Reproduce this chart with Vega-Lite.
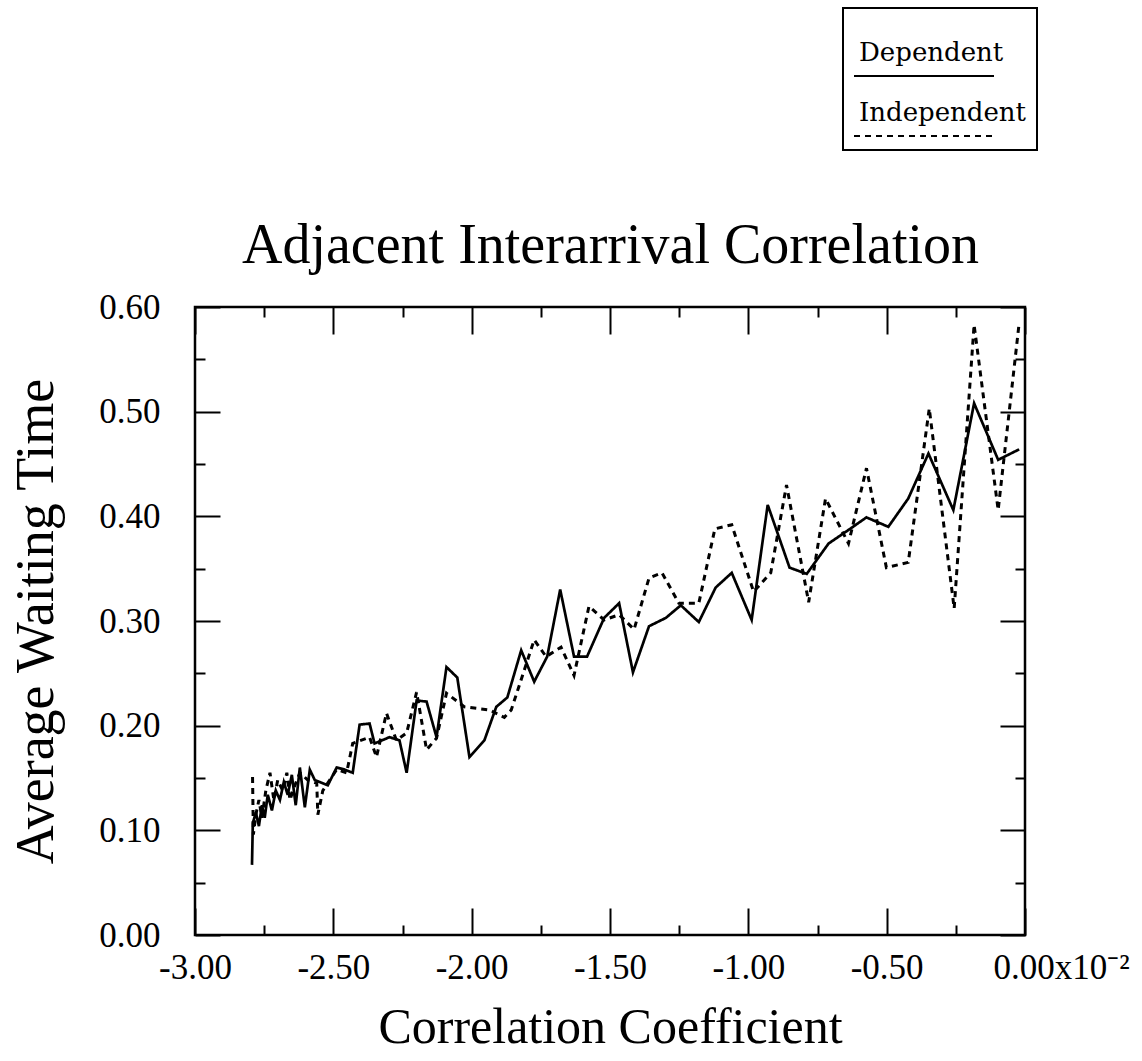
{
  "$schema": "https://vega.github.io/schema/vega-lite/v6.json",
  "width": 830,
  "height": 628,
  "autosize": {"type": "none"},
  "padding": {"left": 195, "top": 307, "right": 117, "bottom": 126},
  "background": "white",
  "config": {
    "view": {"stroke": "black", "strokeWidth": 2.5},
    "legend": {"strokeWidth": 2}
  },
  "data": {"values": [
    {"s": "Dependent", "r": -2.794, "w": 0.067},
    {"s": "Dependent", "r": -2.791, "w": 0.107},
    {"s": "Dependent", "r": -2.780, "w": 0.117},
    {"s": "Dependent", "r": -2.769, "w": 0.104},
    {"s": "Dependent", "r": -2.758, "w": 0.124},
    {"s": "Dependent", "r": -2.748, "w": 0.112},
    {"s": "Dependent", "r": -2.737, "w": 0.134},
    {"s": "Dependent", "r": -2.722, "w": 0.119},
    {"s": "Dependent", "r": -2.708, "w": 0.138},
    {"s": "Dependent", "r": -2.693, "w": 0.129},
    {"s": "Dependent", "r": -2.679, "w": 0.146},
    {"s": "Dependent", "r": -2.665, "w": 0.134},
    {"s": "Dependent", "r": -2.650, "w": 0.153},
    {"s": "Dependent", "r": -2.636, "w": 0.124},
    {"s": "Dependent", "r": -2.621, "w": 0.160},
    {"s": "Dependent", "r": -2.603, "w": 0.122},
    {"s": "Dependent", "r": -2.585, "w": 0.158},
    {"s": "Dependent", "r": -2.567, "w": 0.148},
    {"s": "Dependent", "r": -2.520, "w": 0.143},
    {"s": "Dependent", "r": -2.488, "w": 0.160},
    {"s": "Dependent", "r": -2.459, "w": 0.158},
    {"s": "Dependent", "r": -2.430, "w": 0.155},
    {"s": "Dependent", "r": -2.405, "w": 0.201},
    {"s": "Dependent", "r": -2.369, "w": 0.202},
    {"s": "Dependent", "r": -2.351, "w": 0.183},
    {"s": "Dependent", "r": -2.297, "w": 0.189},
    {"s": "Dependent", "r": -2.261, "w": 0.186},
    {"s": "Dependent", "r": -2.235, "w": 0.155},
    {"s": "Dependent", "r": -2.199, "w": 0.224},
    {"s": "Dependent", "r": -2.163, "w": 0.223},
    {"s": "Dependent", "r": -2.127, "w": 0.189},
    {"s": "Dependent", "r": -2.091, "w": 0.256},
    {"s": "Dependent", "r": -2.052, "w": 0.246},
    {"s": "Dependent", "r": -2.008, "w": 0.170},
    {"s": "Dependent", "r": -1.954, "w": 0.186},
    {"s": "Dependent", "r": -1.911, "w": 0.218},
    {"s": "Dependent", "r": -1.871, "w": 0.227},
    {"s": "Dependent", "r": -1.821, "w": 0.272},
    {"s": "Dependent", "r": -1.774, "w": 0.242},
    {"s": "Dependent", "r": -1.727, "w": 0.266},
    {"s": "Dependent", "r": -1.680, "w": 0.330},
    {"s": "Dependent", "r": -1.630, "w": 0.266},
    {"s": "Dependent", "r": -1.583, "w": 0.266},
    {"s": "Dependent", "r": -1.521, "w": 0.303},
    {"s": "Dependent", "r": -1.467, "w": 0.317},
    {"s": "Dependent", "r": -1.417, "w": 0.251},
    {"s": "Dependent", "r": -1.359, "w": 0.295},
    {"s": "Dependent", "r": -1.298, "w": 0.303},
    {"s": "Dependent", "r": -1.244, "w": 0.315},
    {"s": "Dependent", "r": -1.179, "w": 0.299},
    {"s": "Dependent", "r": -1.118, "w": 0.332},
    {"s": "Dependent", "r": -1.060, "w": 0.346},
    {"s": "Dependent", "r": -0.988, "w": 0.301},
    {"s": "Dependent", "r": -0.930, "w": 0.411},
    {"s": "Dependent", "r": -0.851, "w": 0.351},
    {"s": "Dependent", "r": -0.789, "w": 0.345},
    {"s": "Dependent", "r": -0.710, "w": 0.374},
    {"s": "Dependent", "r": -0.638, "w": 0.387},
    {"s": "Dependent", "r": -0.573, "w": 0.399},
    {"s": "Dependent", "r": -0.494, "w": 0.390},
    {"s": "Dependent", "r": -0.422, "w": 0.417},
    {"s": "Dependent", "r": -0.349, "w": 0.460},
    {"s": "Dependent", "r": -0.259, "w": 0.406},
    {"s": "Dependent", "r": -0.184, "w": 0.508},
    {"s": "Dependent", "r": -0.097, "w": 0.454},
    {"s": "Dependent", "r": -0.021, "w": 0.464},
    {"s": "Independent", "r": -2.792, "w": 0.151},
    {"s": "Independent", "r": -2.789, "w": 0.096},
    {"s": "Independent", "r": -2.780, "w": 0.115},
    {"s": "Independent", "r": -2.769, "w": 0.129},
    {"s": "Independent", "r": -2.758, "w": 0.112},
    {"s": "Independent", "r": -2.744, "w": 0.138},
    {"s": "Independent", "r": -2.729, "w": 0.155},
    {"s": "Independent", "r": -2.715, "w": 0.129},
    {"s": "Independent", "r": -2.701, "w": 0.148},
    {"s": "Independent", "r": -2.683, "w": 0.138},
    {"s": "Independent", "r": -2.668, "w": 0.155},
    {"s": "Independent", "r": -2.657, "w": 0.129},
    {"s": "Independent", "r": -2.639, "w": 0.143},
    {"s": "Independent", "r": -2.621, "w": 0.155},
    {"s": "Independent", "r": -2.592, "w": 0.148},
    {"s": "Independent", "r": -2.560, "w": 0.145},
    {"s": "Independent", "r": -2.556, "w": 0.115},
    {"s": "Independent", "r": -2.538, "w": 0.138},
    {"s": "Independent", "r": -2.488, "w": 0.158},
    {"s": "Independent", "r": -2.452, "w": 0.155},
    {"s": "Independent", "r": -2.430, "w": 0.183},
    {"s": "Independent", "r": -2.369, "w": 0.189},
    {"s": "Independent", "r": -2.344, "w": 0.170},
    {"s": "Independent", "r": -2.308, "w": 0.212},
    {"s": "Independent", "r": -2.272, "w": 0.186},
    {"s": "Independent", "r": -2.235, "w": 0.193},
    {"s": "Independent", "r": -2.199, "w": 0.232},
    {"s": "Independent", "r": -2.163, "w": 0.177},
    {"s": "Independent", "r": -2.127, "w": 0.188},
    {"s": "Independent", "r": -2.091, "w": 0.231},
    {"s": "Independent", "r": -2.026, "w": 0.218},
    {"s": "Independent", "r": -1.936, "w": 0.215},
    {"s": "Independent", "r": -1.882, "w": 0.208},
    {"s": "Independent", "r": -1.857, "w": 0.215},
    {"s": "Independent", "r": -1.774, "w": 0.282},
    {"s": "Independent", "r": -1.731, "w": 0.266},
    {"s": "Independent", "r": -1.677, "w": 0.275},
    {"s": "Independent", "r": -1.630, "w": 0.248},
    {"s": "Independent", "r": -1.576, "w": 0.314},
    {"s": "Independent", "r": -1.521, "w": 0.301},
    {"s": "Independent", "r": -1.467, "w": 0.306},
    {"s": "Independent", "r": -1.413, "w": 0.292},
    {"s": "Independent", "r": -1.359, "w": 0.341},
    {"s": "Independent", "r": -1.312, "w": 0.346},
    {"s": "Independent", "r": -1.251, "w": 0.317},
    {"s": "Independent", "r": -1.179, "w": 0.317},
    {"s": "Independent", "r": -1.121, "w": 0.388},
    {"s": "Independent", "r": -1.060, "w": 0.392},
    {"s": "Independent", "r": -0.981, "w": 0.328},
    {"s": "Independent", "r": -0.919, "w": 0.346},
    {"s": "Independent", "r": -0.862, "w": 0.430},
    {"s": "Independent", "r": -0.782, "w": 0.318},
    {"s": "Independent", "r": -0.721, "w": 0.417},
    {"s": "Independent", "r": -0.638, "w": 0.374},
    {"s": "Independent", "r": -0.573, "w": 0.446},
    {"s": "Independent", "r": -0.501, "w": 0.351},
    {"s": "Independent", "r": -0.422, "w": 0.356},
    {"s": "Independent", "r": -0.346, "w": 0.503},
    {"s": "Independent", "r": -0.256, "w": 0.312},
    {"s": "Independent", "r": -0.184, "w": 0.583},
    {"s": "Independent", "r": -0.097, "w": 0.406},
    {"s": "Independent", "r": -0.021, "w": 0.585}
  ]},
  "encoding": {
    "strokeDash": {
      "field": "s", "type": "nominal",
      "scale": {"domain": ["Dependent", "Independent"], "range": [[1, 0], [6, 5]]},
      "legend": {
        "orient": "none", "legendX": 648, "legendY": -299,
        "title": " ", "titleFontSize": 10, "titlePadding": 4,
        "strokeColor": "black", "padding": 10,
        "symbolType": "M-3.5,1.15L3.5,1.15", "symbolSize": 1600, "symbolOffset": 50,
        "symbolStrokeWidth": 2, "symbolStrokeColor": "black",
        "labelFont": "DejaVu Serif", "labelFontSize": 26, "labelColor": "black",
        "labelBaseline": "middle", "labelOffset": -86, "labelLimit": 400, "rowPadding": 12
      }
    }
  },
  "layer": [
    {
      "transform": [{"filter": "datum.s == 'Dependent'"}],
      "mark": {"type": "line", "color": "black", "strokeWidth": 2.7},
      "encoding": {
        "x": {
          "field": "r", "type": "quantitative",
          "scale": {"domain": [-3, 0], "nice": false, "zero": false},
          "axis": {
            "orient": "bottom", "grid": false, "domain": false,
            "values": [-3, -2.75, -2.5, -2.25, -2, -1.75, -1.5, -1.25, -1, -0.75, -0.5, -0.25, 0],
            "tickSize": {"condition": {"test": "abs(datum.value*2 - round(datum.value*2)) < 0.01", "value": -27}, "value": -10},
            "tickWidth": 2, "tickColor": "black",
            "labelExpr": "abs(datum.value*2 - round(datum.value*2)) < 0.01 ? (datum.value == 0 ? '0.00x10⁻²' : replace(format(datum.value, '.2f'), '−', '-')) : ''",
            "labelOffset": {"condition": {"test": "datum.value == 0", "value": 36}, "value": 0},
            "labelFont": "Liberation Serif", "labelFontSize": 35, "labelColor": "black",
            "labelPadding": 42, "labelFlush": false, "labelOverlap": false,
            "title": "Correlation Coefficient", "titleFont": "Liberation Serif", "titleFontSize": 50,
            "titleFontWeight": "normal", "titleColor": "black", "titlePadding": 0
          }
        },
        "y": {
          "field": "w", "type": "quantitative",
          "scale": {"domain": [0, 0.6], "nice": false},
          "axis": {
            "orient": "left", "grid": false, "domain": false,
            "values": [0, 0.05, 0.1, 0.15, 0.2, 0.25, 0.3, 0.35, 0.4, 0.45, 0.5, 0.55, 0.6],
            "tickSize": {"condition": {"test": "abs(datum.value*10 - round(datum.value*10)) < 0.01", "value": -25}, "value": -10},
            "tickWidth": 2, "tickColor": "black",
            "labelExpr": "abs(datum.value*10 - round(datum.value*10)) < 0.01 ? format(datum.value, '.2f') : ''",
            "labelFont": "Liberation Serif", "labelFontSize": 35, "labelColor": "black",
            "labelPadding": 60, "labelFlush": false, "labelOverlap": false,
            "title": "Average Waiting Time", "titleFont": "Liberation Serif", "titleFontSize": 54,
            "titleFontWeight": "normal", "titleColor": "black", "titlePadding": 35
          }
        }
      }
    },
    {
      "transform": [{"filter": "datum.s == 'Independent'"}],
      "mark": {"type": "line", "color": "black", "strokeWidth": 3},
      "encoding": {
        "x": {
          "field": "r", "type": "quantitative",
          "scale": {"domain": [-3, 0], "nice": false, "zero": false},
          "axis": {
            "orient": "top", "grid": false, "domain": false, "labels": false,
            "title": "Adjacent Interarrival Correlation", "titleFont": "Liberation Serif", "titleFontSize": 56,
            "titleFontWeight": "normal", "titleColor": "black", "titlePadding": 32,
            "values": [-3, -2.75, -2.5, -2.25, -2, -1.75, -1.5, -1.25, -1, -0.75, -0.5, -0.25, 0],
            "tickSize": {"condition": {"test": "abs(datum.value*2 - round(datum.value*2)) < 0.01", "value": -27}, "value": -10},
            "tickWidth": 2, "tickColor": "black"
          }
        },
        "y": {
          "field": "w", "type": "quantitative",
          "scale": {"domain": [0, 0.6], "nice": false},
          "axis": {
            "orient": "right", "grid": false, "domain": false, "labels": false, "title": null,
            "values": [0, 0.05, 0.1, 0.15, 0.2, 0.25, 0.3, 0.35, 0.4, 0.45, 0.5, 0.55, 0.6],
            "tickSize": {"condition": {"test": "abs(datum.value*10 - round(datum.value*10)) < 0.01", "value": -25}, "value": -10},
            "tickWidth": 2, "tickColor": "black"
          }
        }
      }
    }
  ],
  "resolve": {"axis": {"x": "independent", "y": "independent"}}
}
